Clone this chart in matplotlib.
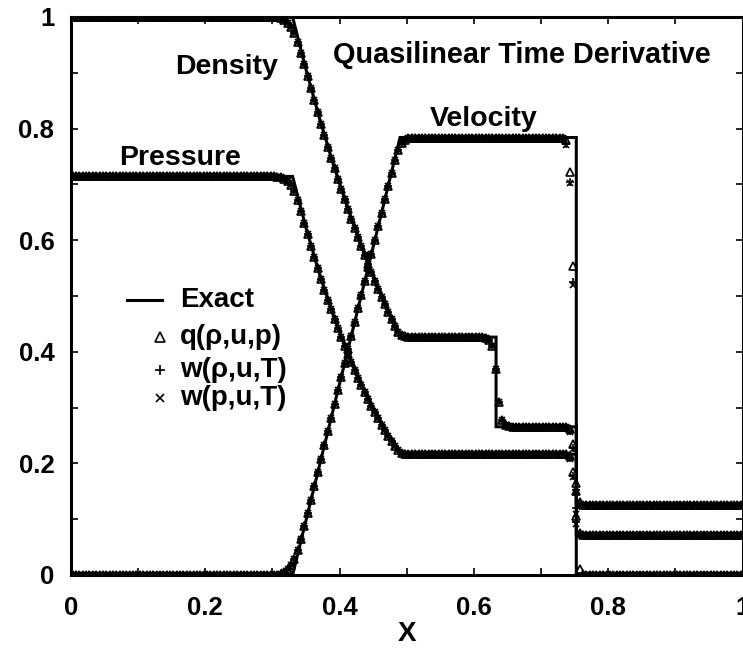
import numpy as np
import matplotlib
matplotlib.use("Agg")
import matplotlib.pyplot as plt

plt.rcParams['font.family'] = ['Liberation Sans', 'DejaVu Sans']
plt.rcParams['font.weight'] = 'bold'

# ---------------- exact solution ----------------
x_exact = [0.0, 0.33, 0.35, 0.37, 0.39, 0.41, 0.43, 0.45, 0.47, 0.49,
           0.633, 0.633, 0.7525, 0.7525, 1.0]
rho_exact = [1.0, 1.0, 0.9058, 0.8187, 0.7385, 0.6647, 0.5969, 0.5348, 0.4780,
             0.4263, 0.4263, 0.2656, 0.2656, 0.125, 0.125]
u_exact = [0.0, 0.0, 0.098, 0.196, 0.294, 0.392, 0.490, 0.588, 0.686,
           0.784, 0.784, 0.784, 0.784, 0.0, 0.0]
p_exact = [0.7143, 0.7143, 0.6219, 0.5398, 0.4673, 0.4033, 0.3468, 0.2974,
           0.2541, 0.2165, 0.2165, 0.2165, 0.2165, 0.0714, 0.0714]

# ---------------- numerical solutions (200 cells) ----------------
n_cells = 200

rho_head = [0.9995, 0.998, 0.995, 0.990, 0.982, 0.972, 0.956, 0.936, 0.9155]
rho_fan = [0.8945, 0.8723, 0.8505, 0.8292, 0.8083, 0.7878, 0.7678, 0.7482, 0.7290,
           0.7101, 0.6917, 0.6736, 0.6559, 0.6386, 0.6217, 0.6051, 0.5889, 0.5730,
           0.5575, 0.5423, 0.5274, 0.5129, 0.4987, 0.4848, 0.4713]
rho_tail = [0.459, 0.447, 0.436, 0.430, 0.428, 0.427]
rho_contact = [0.425, 0.422, 0.410, 0.370, 0.310, 0.278, 0.269, 0.2665]
rho_shock_q = [0.2655, 0.262, 0.235, 0.165, 0.130, 0.1255]
rho_shock_wr = [0.2650, 0.258, 0.228, 0.152, 0.127, 0.1252]
rho_shock_wp = [0.2648, 0.257, 0.226, 0.148, 0.126, 0.1251]

u_head = [0.0005, 0.002, 0.005, 0.010, 0.018, 0.028, 0.045, 0.065, 0.088]
u_fan = [0.1103, 0.1348, 0.1593, 0.1838, 0.2083, 0.2328, 0.2574, 0.2819, 0.3064,
         0.3309, 0.3554, 0.3799, 0.4044, 0.4289, 0.4534, 0.4779, 0.5025, 0.5270,
         0.5515, 0.5760, 0.6005, 0.6250, 0.6495, 0.6740, 0.6970]
u_tail = [0.721, 0.743, 0.762, 0.775, 0.780, 0.783]
u_shock_q = [0.780, 0.723, 0.553, 0.150, 0.010, 0.001]
u_shock_wr = [0.772, 0.705, 0.525, 0.120, -0.004, -0.002]
u_shock_wp = [0.770, 0.703, 0.520, 0.110, -0.006, -0.003]

p_head = [0.7140, 0.7130, 0.7105, 0.7060, 0.6990, 0.6890, 0.6720, 0.6520, 0.6310]
p_fan = [0.6110, 0.5899, 0.5694, 0.5496, 0.5303, 0.5116, 0.4935, 0.4759, 0.4589,
         0.4423, 0.4263, 0.4108, 0.3958, 0.3813, 0.3672, 0.3536, 0.3404, 0.3276,
         0.3152, 0.3033, 0.2917, 0.2805, 0.2697, 0.2592, 0.2492]
p_tail = [0.2400, 0.2315, 0.2235, 0.2190, 0.2175, 0.2170]
p_shock_q = [0.2163, 0.213, 0.185, 0.105, 0.076, 0.0718]
p_shock_wr = [0.2160, 0.209, 0.178, 0.095, 0.074, 0.0716]
p_shock_wp = [0.2158, 0.208, 0.176, 0.092, 0.073, 0.0715]

rho_left, rho_star_l, rho_star_r, rho_right = 1.0, 0.4263, 0.2656, 0.125
u_left, u_star, u_right = 0.0, 0.784, 0.0
p_left, p_star, p_right = 0.7143, 0.2165, 0.0714


def build_rho(shock):
    return ([rho_left] * 61 + rho_head + rho_fan + rho_tail + [rho_star_l] * 22
            + rho_contact + [rho_star_r] * 16 + shock + [rho_right] * 47)


def build_u(shock):
    return ([u_left] * 61 + u_head + u_fan + u_tail + [u_star] * 46
            + shock + [u_right] * 47)


def build_p(shock):
    return ([p_left] * 61 + p_head + p_fan + p_tail + [p_star] * 46
            + shock + [p_right] * 47)


x_cells = (np.arange(n_cells) + 0.5) / n_cells

schemes = {
    'q': (build_rho(rho_shock_q), build_u(u_shock_q), build_p(p_shock_q)),
    'wr': (build_rho(rho_shock_wr), build_u(u_shock_wr), build_p(p_shock_wr)),
    'wp': (build_rho(rho_shock_wp), build_u(u_shock_wp), build_p(p_shock_wp)),
}
styles = {
    'q': dict(marker='^', ms=6.3, mfc='none', mec='black', mew=1.2, ls='none'),
    'wr': dict(marker='+', ms=6.0, mec='black', mew=1.2, ls='none'),
    'wp': dict(marker='x', ms=5.0, mec='black', mew=1.2, ls='none'),
}

legend_labels = ['Exact', 'q(ρ,u,p)', 'w(ρ,u,T)', 'w(p,u,T)']

# ---------------- figure ----------------
fig = plt.figure(figsize=(7.43, 6.53), dpi=100)
ax = fig.add_axes([71 / 743, 78 / 653, 671.5 / 743, 558 / 653])

for arr in (rho_exact, u_exact, p_exact):
    ax.plot(x_exact, arr, color='black', lw=2.2, solid_joinstyle='miter')

for key in ['q', 'wr', 'wp']:
    for arr in schemes[key]:
        ax.plot(x_cells, arr, **styles[key])

ax.set_xlim(0, 1)
ax.set_ylim(0, 1)
ax.set_xticks([0, 0.2, 0.4, 0.6, 0.8, 1.0])
ax.set_xticklabels(['0', '0.2', '0.4', '0.6', '0.8', '1'])
ax.set_yticks([0, 0.2, 0.4, 0.6, 0.8, 1.0])
ax.set_yticklabels(['0', '0.2', '0.4', '0.6', '0.8', '1'])
ax.set_xticks(np.arange(1, 10, 2) / 10, minor=True)
ax.set_yticks(np.arange(1, 10, 2) / 10, minor=True)
ax.tick_params(which='both', direction='in', top=True, right=True,
               length=5, width=1.2)
ax.tick_params(axis='x', which='major', labelsize=18.5, pad=15)
ax.tick_params(axis='y', which='major', labelsize=18.5, pad=12)
for lab in ax.get_xticklabels() + ax.get_yticklabels():
    lab.set_fontweight('bold')
for sp in ax.spines.values():
    sp.set_linewidth(2.2)

ax.set_xlabel('X', fontsize=20, fontweight='bold', labelpad=1)

# curve labels
txt = dict(fontsize=20.5, fontweight='bold', ha='center', va='center')
ax.text(0.2321, 0.9104, 'Density', **txt)
ax.text(0.1622, 0.7473, 'Pressure', **txt)
ax.text(0.6146, 0.8172, 'Velocity', **txt)
ax.text(0.6711, 0.9319, 'Quasilinear Time Derivative',
        **dict(txt, fontsize=20.8))

# legend (drawn manually)
ax.plot([0.0833, 0.1354], [0.4928, 0.4928], color='black', lw=2.2,
        transform=ax.transAxes, clip_on=False)
leg_y = [0.4928, 0.4265, 0.3674, 0.3172]
leg_ms = {'q': 6.5, 'wr': 6.5, 'wp': 5.5}
for key, yy in zip(['q', 'wr', 'wp'], leg_y[1:]):
    st = dict(styles[key])
    st['ms'] = leg_ms[key]
    ax.plot([0.1324], [yy], transform=ax.transAxes, clip_on=False, **st)
for lab, yy in zip(legend_labels, leg_y):
    ax.text(0.1622, yy, lab, transform=ax.transAxes, fontsize=20,
            fontweight='bold', ha='left', va='center')

fig.savefig('out.png', dpi=100)
